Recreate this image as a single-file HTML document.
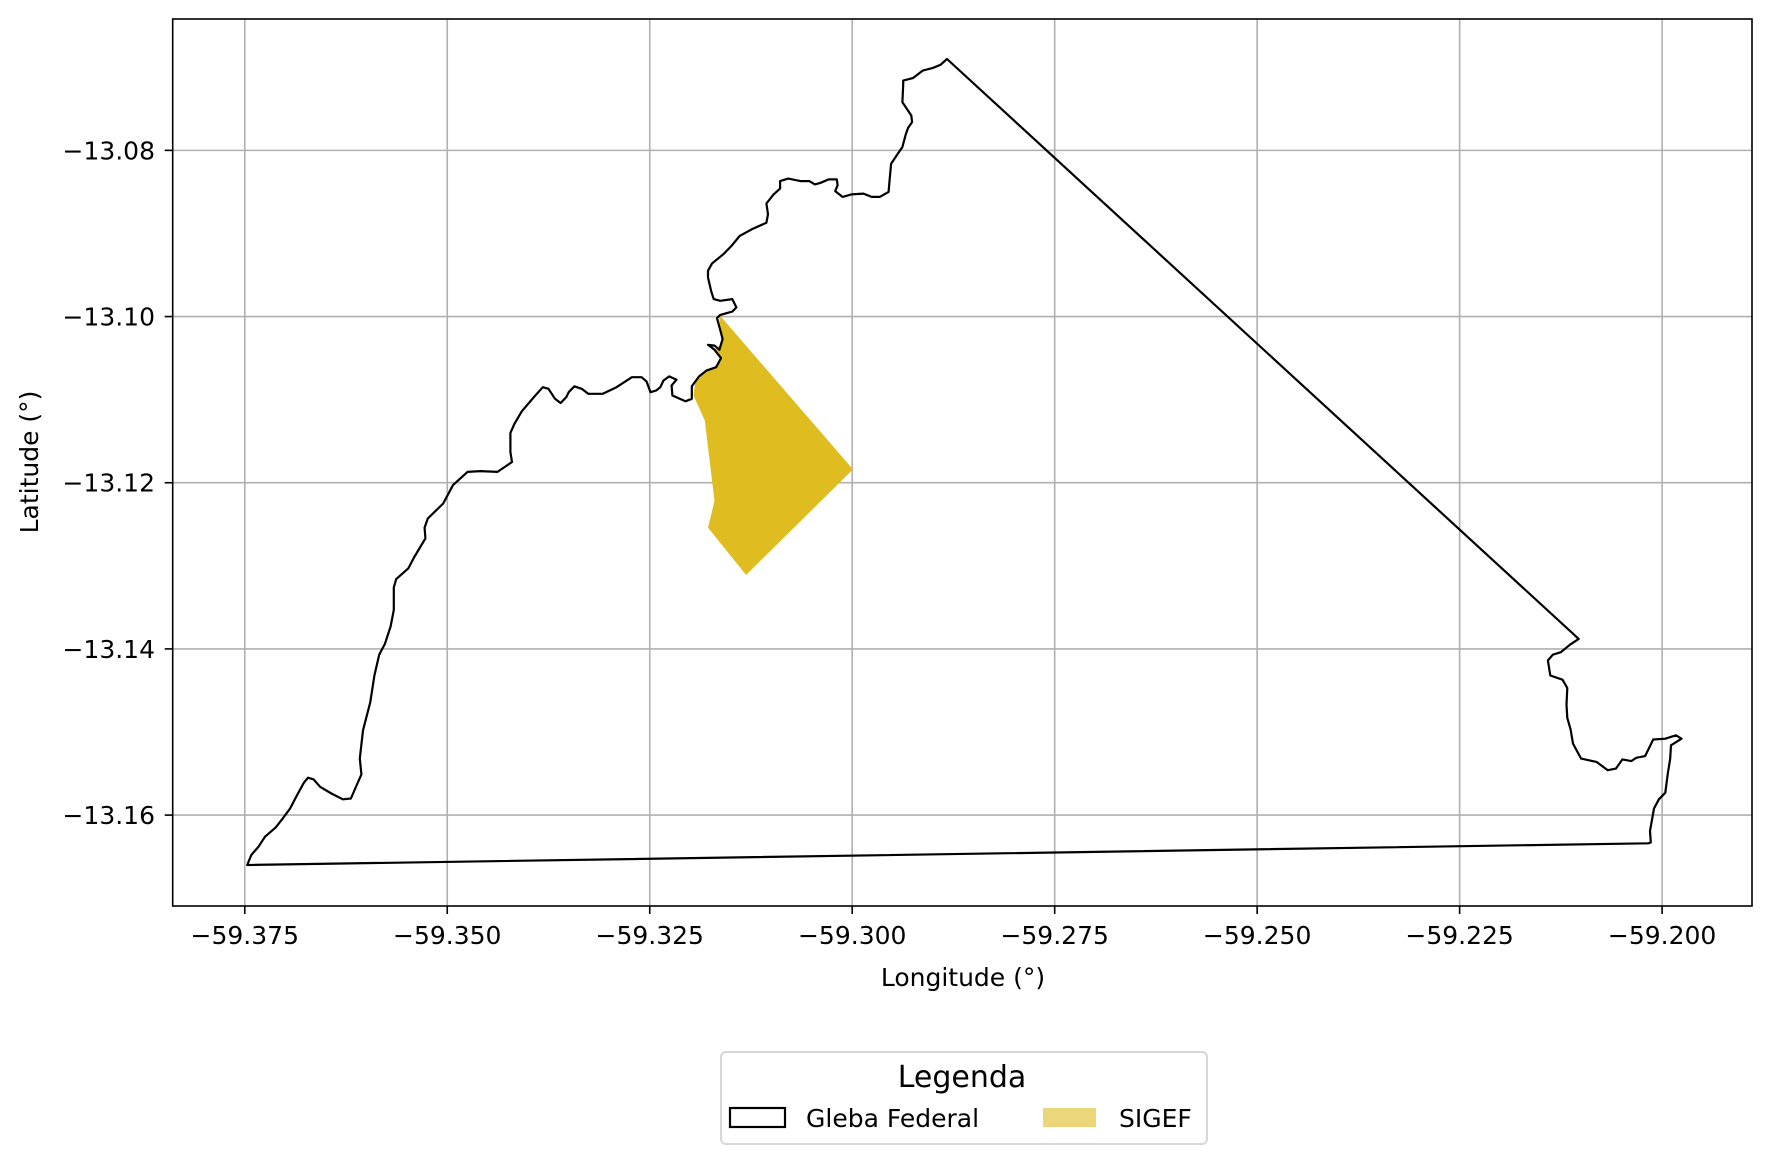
<!DOCTYPE html>
<html><head><meta charset="utf-8"><style>
html,body{margin:0;padding:0;background:#fff}
svg{display:block;font-family:"DejaVu Sans","Liberation Sans",sans-serif}
</style></head><body>
<svg id="chart" width="1770" height="1163" viewBox="0 0 1770 1163" xmlns="http://www.w3.org/2000/svg">
<rect x="0" y="0" width="1770" height="1163" fill="#fff"/>
<g id="grid"></g>
<g id="plot"></g>
<rect x="172.7" y="19" width="1579.3" height="887" fill="none" stroke="#000" stroke-width="1.6"/>
<g id="ticks"></g>
<text x="963" y="986" font-size="25" text-anchor="middle">Longitude (°)</text>
<text x="0" y="0" font-size="25" text-anchor="middle" transform="translate(38,462) rotate(-90)">Latitude (°)</text>
<g>
<rect x="721" y="1052" width="486" height="92" rx="5" fill="#fff" stroke="#d6d6d6" stroke-width="2"/>
<text x="962" y="1087" font-size="30" text-anchor="middle">Legenda</text>
<g>
<rect x="730" y="1108" width="55" height="19" fill="none" stroke="#000" stroke-width="2.2"/>
<text x="806" y="1127" font-size="25">Gleba Federal</text>
</g>
<g>
<rect x="1043" y="1108" width="53" height="19" fill="#ebd679"/>
<text x="1119" y="1127" font-size="25">SIGEF</text>
</g>
</g>
</svg>
<script>
const xTicks=[-59.375,-59.350,-59.325,-59.300,-59.275,-59.250,-59.225,-59.200];
const xTickLabels=["\u221259.375","\u221259.350","\u221259.325","\u221259.300","\u221259.275","\u221259.250","\u221259.225","\u221259.200"];
const yTicks=[-13.08,-13.10,-13.12,-13.14,-13.16];
const yTickLabels=["\u221213.08","\u221213.10","\u221213.12","\u221213.14","\u221213.16"];
const glebaLon=[-59.3747,-59.3742,-59.3733,-59.3725,-59.3712,-59.3703,-59.3694,-59.3686,-59.3677,-59.3672,-59.3665,-59.3657,-59.3643,-59.3629,-59.3619,-59.3611,-59.3606,-59.3608,-59.3604,-59.3595,-59.3590,-59.3584,-59.3577,-59.3570,-59.3566,-59.3566,-59.3563,-59.3548,-59.3541,-59.3527,-59.3528,-59.3524,-59.3505,-59.3493,-59.3475,-59.3459,-59.3438,-59.3420,-59.3422,-59.3422,-59.3417,-59.3408,-59.3393,-59.3382,-59.3375,-59.3367,-59.3360,-59.3353,-59.3350,-59.3343,-59.3334,-59.3326,-59.3308,-59.3291,-59.3272,-59.3260,-59.3254,-59.3249,-59.3242,-59.3237,-59.3233,-59.3226,-59.3217,-59.3223,-59.3222,-59.3206,-59.3198,-59.3198,-59.3189,-59.3180,-59.3168,-59.3162,-59.3170,-59.3178,-59.3170,-59.3164,-59.3160,-59.3163,-59.3167,-59.3163,-59.3148,-59.3143,-59.3148,-59.3163,-59.3171,-59.3174,-59.3178,-59.3178,-59.3173,-59.3159,-59.3149,-59.3139,-59.3124,-59.3106,-59.3104,-59.3106,-59.3097,-59.3089,-59.3089,-59.3079,-59.3064,-59.3053,-59.3046,-59.3039,-59.3029,-59.3019,-59.3018,-59.3021,-59.3012,-59.3001,-59.2986,-59.2976,-59.2966,-59.2955,-59.2954,-59.2952,-59.2943,-59.2938,-59.2934,-59.2931,-59.2926,-59.2927,-59.2938,-59.2937,-59.2937,-59.2925,-59.2913,-59.2901,-59.2891,-59.2883,-59.2103,-59.2114,-59.2125,-59.2135,-59.2141,-59.2138,-59.2123,-59.2117,-59.2118,-59.2117,-59.2113,-59.2110,-59.2100,-59.2081,-59.2067,-59.2057,-59.2049,-59.2038,-59.2032,-59.2021,-59.2011,-59.1996,-59.1983,-59.1976,-59.1989,-59.1990,-59.1993,-59.1996,-59.2004,-59.2010,-59.2015,-59.2014,-59.2017];
const glebaLat=[-13.1660,-13.1648,-13.1638,-13.1626,-13.1615,-13.1604,-13.1592,-13.1577,-13.1561,-13.1555,-13.1557,-13.1566,-13.1574,-13.1581,-13.1580,-13.1562,-13.1551,-13.1532,-13.1498,-13.1464,-13.1432,-13.1407,-13.1394,-13.1373,-13.1353,-13.1326,-13.1316,-13.1303,-13.1290,-13.1267,-13.1254,-13.1243,-13.1225,-13.1203,-13.1187,-13.1186,-13.1187,-13.1175,-13.1163,-13.1140,-13.1129,-13.1114,-13.1097,-13.1085,-13.1087,-13.1099,-13.1104,-13.1097,-13.1091,-13.1084,-13.1087,-13.1093,-13.1093,-13.1085,-13.1073,-13.1073,-13.1078,-13.1091,-13.1089,-13.1085,-13.1077,-13.1072,-13.1076,-13.1083,-13.1095,-13.1102,-13.1099,-13.1084,-13.1072,-13.1065,-13.1061,-13.1050,-13.1040,-13.1034,-13.1035,-13.1040,-13.1027,-13.1016,-13.1002,-13.0998,-13.0994,-13.0989,-13.0979,-13.0981,-13.0979,-13.0970,-13.0953,-13.0945,-13.0936,-13.0925,-13.0915,-13.0903,-13.0895,-13.0887,-13.0877,-13.0864,-13.0853,-13.0846,-13.0837,-13.0834,-13.0837,-13.0837,-13.0841,-13.0839,-13.0835,-13.0835,-13.0842,-13.0849,-13.0856,-13.0853,-13.0852,-13.0856,-13.0856,-13.0850,-13.0837,-13.0816,-13.0803,-13.0796,-13.0781,-13.0773,-13.0766,-13.0758,-13.0742,-13.0721,-13.0716,-13.0713,-13.0704,-13.0701,-13.0697,-13.0690,-13.1388,-13.1395,-13.1404,-13.1407,-13.1414,-13.1432,-13.1437,-13.1447,-13.1467,-13.1483,-13.1497,-13.1514,-13.1532,-13.1536,-13.1546,-13.1544,-13.1533,-13.1535,-13.1531,-13.1529,-13.1509,-13.1508,-13.1504,-13.1508,-13.1516,-13.1532,-13.1550,-13.1573,-13.1581,-13.1592,-13.1619,-13.1633,-13.1634];
const sigefLon=[-59.3164,-59.2999,-59.3131,-59.3178,-59.3170,-59.3182,-59.3196,-59.3194,-59.3184,-59.3168,-59.3162,-59.3170,-59.3164,-59.3160,-59.3164];
const sigefLat=[-13.0998,-13.1184,-13.1311,-13.1254,-13.1222,-13.1125,-13.1095,-13.1081,-13.1068,-13.1061,-13.1050,-13.1040,-13.1035,-13.1024,-13.1005];

const X0=172.7,X1=1752,Y0=19,Y1=906;
const lonMin=-59.3839,lonMax=-59.1889,latMin=-13.17094,latMax=-13.06419;
function sx(v){return X0+(v-lonMin)/(lonMax-lonMin)*(X1-X0);}
function sy(v){return Y1-(v-latMin)/(latMax-latMin)*(Y1-Y0);}
const NS="http://www.w3.org/2000/svg";
function mk(tag,attrs,parent){const e=document.createElementNS(NS,tag);for(const k in attrs)e.setAttribute(k,attrs[k]);parent.appendChild(e);return e;}
const grid=document.getElementById('grid'),plot=document.getElementById('plot'),ticks=document.getElementById('ticks');
xTicks.forEach((v,i)=>{
  const x=sx(v);
  const g=mk('line',{x1:x,x2:x,y1:Y0,y2:Y1,stroke:'#b0b0b0','stroke-width':1.6},grid);
  
  
  const t=mk('line',{x1:x,x2:x,y1:Y1,y2:Y1+8,stroke:'#000','stroke-width':1.6},ticks);
  
  
  const l=mk('text',{x:x,y:944,'font-size':25,'text-anchor':'middle'},ticks);
  l.textContent=xTickLabels[i];
  
  
});
yTicks.forEach((v,i)=>{
  const y=sy(v);
  const g=mk('line',{x1:X0,x2:X1,y1:y,y2:y,stroke:'#b0b0b0','stroke-width':1.6},grid);
  
  
  const t=mk('line',{x1:X0-8,x2:X0,y1:y,y2:y,stroke:'#000','stroke-width':1.6},ticks);
  
  
  const l=mk('text',{x:155,y:y+9,'font-size':25,'text-anchor':'end'},ticks);
  l.textContent=yTickLabels[i];
  
  
});
function pts(lo,la){return lo.map((v,i)=>sx(v).toFixed(1)+','+sy(la[i]).toFixed(1)).join(' ');}
const s=mk('polygon',{points:pts(sigefLon,sigefLat),fill:'#dfbc1f',stroke:'none'},plot);


const g=mk('polygon',{points:pts(glebaLon,glebaLat),fill:'none',stroke:'#000','stroke-width':2.2,'stroke-linejoin':'round'},plot);


</script>
</body></html>
